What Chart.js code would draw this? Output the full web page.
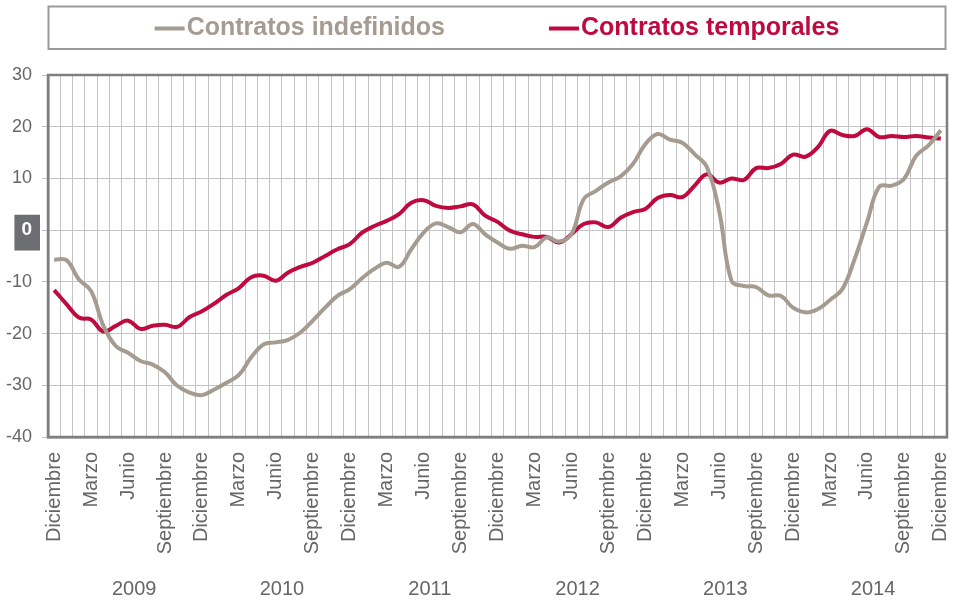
<!DOCTYPE html>
<html lang="es">
<head>
<meta charset="utf-8">
<title>Contratos indefinidos y temporales</title>
<script src="https://cdn.jsdelivr.net/npm/chart.js@4.4.1/dist/chart.umd.min.js"></script>
<style>
    html, body { margin: 0; padding: 0; background: #fff; }
    #wrap { position: relative; width: 953px; height: 600px; }
</style>
</head>
<body>
<div id="wrap"><canvas id="myChart"></canvas></div>
<script>
// 月名 (Diciembre 2008 〜 Diciembre 2014, 73ヶ月)
const nombresMes = ['Enero', 'Febrero', 'Marzo', 'Abril', 'Mayo', 'Junio',
    'Julio', 'Agosto', 'Septiembre', 'Octubre', 'Noviembre', 'Diciembre'];
const meses = ['Diciembre'];
for (let a = 0; a < 6; a++) nombresMes.forEach(m => meses.push(m));

const anios = ['2009', '2010', '2011', '2012', '2013', '2014'];

const indefinidos = [
    -5.7, -5.8, -9.5, -11.8, -18.5, -22.4, -23.7, -25.3, -26.0, -27.5, -30.1, -31.4,
    -31.9, -30.8, -29.5, -28.0, -24.6, -22.1, -21.7, -21.2, -19.8, -17.5, -15.0, -12.7,
    -11.4, -9.3, -7.5, -6.3, -7.1, -3.7, -0.5, 1.3, 0.6, -0.4, 1.2, -0.8,
    -2.4, -3.6, -3.0, -3.3, -1.4, -2.2, -0.8, 6.0, 7.6, 9.2, 10.4, 12.8,
    16.6, 18.6, 17.5, 16.9, 14.7, 12.2, 3.7, -9.8, -10.8, -11.0, -12.6, -12.7,
    -15.0, -15.9, -15.3, -13.5, -11.4, -5.6, 1.5, 8.4, 8.6, 9.9, 14.4, 16.4,
    19.3
];

const temporales = [
    -11.6, -14.3, -16.9, -17.3, -19.6, -18.5, -17.5, -19.1, -18.5, -18.3, -18.7, -16.8,
    -15.7, -14.2, -12.5, -11.2, -9.1, -8.8, -9.8, -8.2, -7.1, -6.3, -5.0, -3.7,
    -2.7, -0.5, 0.8, 1.8, 3.1, 5.3, 5.8, 4.7, 4.3, 4.6, 5.0, 2.8,
    1.6, -0.1, -0.8, -1.3, -1.3, -2.4, -0.8, 1.2, 1.5, 0.6, 2.4, 3.5,
    4.1, 6.2, 6.8, 6.4, 8.6, 10.8, 9.2, 10.0, 9.7, 12.0, 12.0, 12.8,
    14.6, 14.2, 16.0, 19.2, 18.4, 18.2, 19.5, 18.0, 18.2, 18.0, 18.2, 17.9,
    17.7
];

const GRIS = '#a59b90';
const ROJO = '#be0a3e';
const FUENTE = '"Liberation Sans", Arial, sans-serif';

Chart.defaults.font.family = FUENTE;

// 枠線 (chartArea の外枠)
const marcoPlugin = {
    id: 'marco',
    beforeDatasetsDraw(chart) {
        const { ctx, chartArea: a } = chart;
        ctx.save();
        ctx.strokeStyle = '#7f7f7f';
        ctx.lineWidth = 2.5;
        ctx.strokeRect(a.left, a.top, a.right - a.left, a.bottom - a.top);
        ctx.restore();
    }
};

// 年ラベル
const aniosPlugin = {
    id: 'anios',
    afterDraw(chart) {
        const { ctx } = chart;
        const x = chart.scales.x;
        ctx.save();
        ctx.fillStyle = '#666';
        ctx.font = '20px ' + FUENTE;
        ctx.textAlign = 'center';
        ctx.textBaseline = 'middle';
        anios.forEach((a, k) => {
            const x1 = x.getPixelForValue(1 + 12 * k);
            const x2 = x.getPixelForValue(12 + 12 * k);
            ctx.fillText(a, (x1 + x2) / 2, 589);
        });
        ctx.restore();
    }
};

// 凡例 (枠付き)
const leyendaPlugin = {
    id: 'leyenda',
    afterDraw(chart) {
        const { ctx } = chart;
        const caja = { left: 48.5, top: 6.5, right: 945.5, bottom: 49 };
        ctx.save();
        ctx.strokeStyle = '#9a9a9a';
        ctx.lineWidth = 2;
        ctx.strokeRect(caja.left, caja.top, caja.right - caja.left, caja.bottom - caja.top);

        ctx.font = 'bold 25px ' + FUENTE;
        ctx.textBaseline = 'middle';
        const linea = 30, hueco = 2, sep = 104;
        const items = chart.data.datasets.map(d => ({
            texto: d.label, color: d.borderColor, ancho: linea + hueco + ctx.measureText(d.label).width
        }));
        const total = items.reduce((s, it) => s + it.ancho, 0) + sep * (items.length - 1);
        let x = (caja.left + caja.right) / 2 - total / 2;
        const y = 28.5;
        items.forEach(it => {
            ctx.fillStyle = it.color;
            ctx.fillRect(x, y - 2, linea, 4);
            ctx.fillText(it.texto, x + linea + hueco, y);
            x += it.ancho + sep;
        });
        ctx.restore();
    }
};

const ctx = document.getElementById('myChart').getContext('2d');
new Chart(ctx, {
    type: 'line',
    data: {
        labels: meses,
        datasets: [{
            label: 'Contratos indefinidos',
            data: indefinidos,
            borderColor: GRIS,
            borderWidth: 4,
            pointRadius: 0,
            tension: 0.4
        }, {
            label: 'Contratos temporales',
            data: temporales,
            borderColor: ROJO,
            borderWidth: 4,
            pointRadius: 0,
            tension: 0.4
        }]
    },
    options: {
        responsive: true,
        maintainAspectRatio: false,
        animation: false,
        layout: { padding: { top: 75, right: 6, left: 0, bottom: 0 } },
        plugins: {
            legend: { display: false },
            tooltip: { enabled: false }
        },
        scales: {
            x: {
                offset: true,
                grid: { offset: true, color: '#c4c4c4', lineWidth: 1, drawTicks: false },
                border: { color: '#7f7f7f', width: 2.5 },
                ticks: {
                    autoSkip: false,
                    maxRotation: 90,
                    minRotation: 90,
                    padding: 15,
                    color: '#666',
                    font: { size: 20 },
                    callback: (v, i) => (i % 3 === 0 ? meses[i] : '')
                },
                afterFit: s => {
                    s.height = 163;
                    s.paddingLeft = 0;
                    s.paddingRight = 0;
                }
            },
            y: {
                min: -40,
                max: 30,
                grid: { color: '#c4c4c4', lineWidth: 1, tickLength: 6 },
                border: { color: '#7f7f7f', width: 2.5 },
                ticks: {
                    stepSize: 10,
                    padding: 10,
                    color: c => (c.tick && c.tick.value === 0 ? '#fff' : '#666'),
                    font: c => (c.tick && c.tick.value === 0 ? { size: 19, weight: 'bold' } : { size: 18 }),
                    showLabelBackdrop: c => !!(c.tick && c.tick.value === 0),
                    backdropColor: '#6d6e71',
                    backdropPadding: { top: 4, bottom: 9, left: 7, right: 8 }
                },
                afterFit: s => { s.width = 48; }
            }
        }
    },
    plugins: [marcoPlugin, aniosPlugin, leyendaPlugin]
});
</script>
</body>
</html>
